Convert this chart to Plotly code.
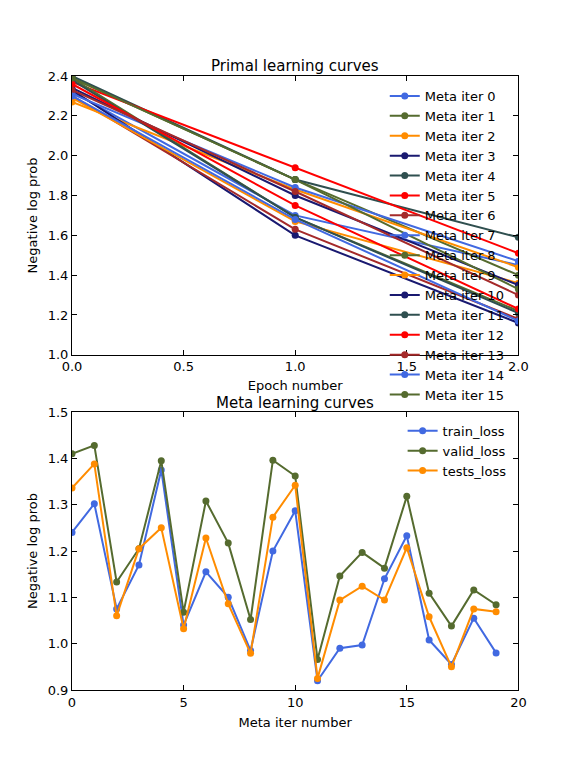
import plotly.graph_objects as go
from plotly.subplots import make_subplots

# primal curves: negative log prob at epoch 0, 1, 2 for each meta iter
epochs = [0, 1, 2]
primal_curves = [
    [2.32, 1.70, 1.45],
    [2.39, 1.88, 1.40],
    [2.27, 1.83, 1.44],
    [2.33, 1.60, 1.16],
    [2.40, 1.88, 1.59],
    [2.37, 1.94, 1.51],
    [2.30, 1.63, 1.18],
    [2.31, 1.84, 1.47],
    [2.39, 1.69, 1.22],
    [2.29, 1.67, 1.36],
    [2.34, 1.80, 1.35],
    [2.38, 1.69, 1.21],
    [2.36, 1.75, 1.23],
    [2.33, 1.82, 1.30],
    [2.30, 1.68, 1.17],
    [2.39, 1.88, 1.33],
]
line_colors = ['#4169e1', '#556b2f', '#ff8c00', '#191970',
               '#2f4f4f', '#ff0000', '#a52a2a']

# meta curves
meta_iters = list(range(20))
train_loss = [1.240, 1.302, 1.075, 1.170, 1.375, 1.040, 1.155, 1.100, 0.985, 1.200,
              1.287, 0.920, 0.990, 0.997, 1.140, 1.233, 1.008, 0.955, 1.055, 0.980]
valid_loss = [1.410, 1.428, 1.133, 1.205, 1.395, 1.068, 1.308, 1.217, 1.052, 1.396,
              1.362, 0.966, 1.146, 1.197, 1.163, 1.318, 1.109, 1.038, 1.116, 1.084]
tests_loss = [1.336, 1.388, 1.060, 1.205, 1.250, 1.032, 1.228, 1.086, 0.979, 1.273,
              1.342, 0.925, 1.094, 1.124, 1.094, 1.207, 1.058, 0.950, 1.075, 1.069]

fig = make_subplots(rows=2, cols=1)

for i, ys in enumerate(primal_curves):
    c = line_colors[i % len(line_colors)]
    fig.add_trace(go.Scatter(x=epochs, y=ys, mode='lines+markers',
                             name=f'Meta iter {i}',
                             line=dict(color=c, width=2),
                             marker=dict(color=c, size=7),
                             legend='legend'),
                  row=1, col=1)

for name, ys, c in [('train_loss', train_loss, '#4169e1'),
                    ('valid_loss', valid_loss, '#556b2f'),
                    ('tests_loss', tests_loss, '#ff8c00')]:
    fig.add_trace(go.Scatter(x=meta_iters, y=ys, mode='lines+markers',
                             name=name,
                             line=dict(color=c, width=2),
                             marker=dict(color=c, size=7),
                             legend='legend2'),
                  row=2, col=1)

axis_style = dict(showline=True, linecolor='black', linewidth=1, mirror='ticks',
                  ticks='inside', ticklen=5, tickcolor='black', showgrid=False,
                  zeroline=False, automargin=False,
                  tickfont=dict(size=13, color='black'))

fig.update_xaxes(**axis_style)
fig.update_yaxes(**axis_style)

fig.update_xaxes(domain=[0.125, 0.9], range=[0, 2], dtick=0.5, tickformat='.1f',
                 title=dict(text='Epoch number', standoff=7, font=dict(size=13)),
                 row=1, col=1)
fig.update_yaxes(domain=[0.538, 0.901], range=[1.0, 2.4], dtick=0.2, tickformat='.1f',
                 title=dict(text='Negative log prob', standoff=7, font=dict(size=13)),
                 row=1, col=1)
fig.update_xaxes(domain=[0.125, 0.9], range=[0, 20], dtick=5,
                 title=dict(text='Meta iter number', standoff=9, font=dict(size=13)),
                 row=2, col=1)
fig.update_yaxes(domain=[0.1016, 0.4635], range=[0.9, 1.5], dtick=0.1, tickformat='.1f',
                 title=dict(text='Negative log prob', standoff=7, font=dict(size=13)),
                 row=2, col=1)

fig.add_annotation(text='Primal learning curves', xref='paper', yref='paper',
                   x=0.5125, y=0.901, xanchor='center', yanchor='bottom', yshift=-1,
                   showarrow=False, font=dict(size=15, color='black'))
fig.add_annotation(text='Meta learning curves', xref='paper', yref='paper',
                   x=0.5125, y=0.4635, xanchor='center', yanchor='bottom', yshift=-2,
                   showarrow=False, font=dict(size=15, color='black'))

fig.update_layout(
    width=576, height=768,
    margin=dict(l=0, r=0, t=0, b=0, autoexpand=False),
    paper_bgcolor='white', plot_bgcolor='white',
    font=dict(family='DejaVu Sans', color='black', size=13),
    showlegend=True,
    legend=dict(x=0.668, y=0.8945, xanchor='left', yanchor='top',
                bgcolor='rgba(0,0,0,0)', font=dict(size=13), tracegroupgap=0),
    legend2=dict(x=0.699, y=0.4585, xanchor='left', yanchor='top',
                 bgcolor='rgba(0,0,0,0)', font=dict(size=13), tracegroupgap=0),
)

# drop the default page margin so the 576x768 figure fills the window exactly
fig.write_html("out.html", config={'displayModeBar': False},
               post_script="document.body.style.margin='0';")
